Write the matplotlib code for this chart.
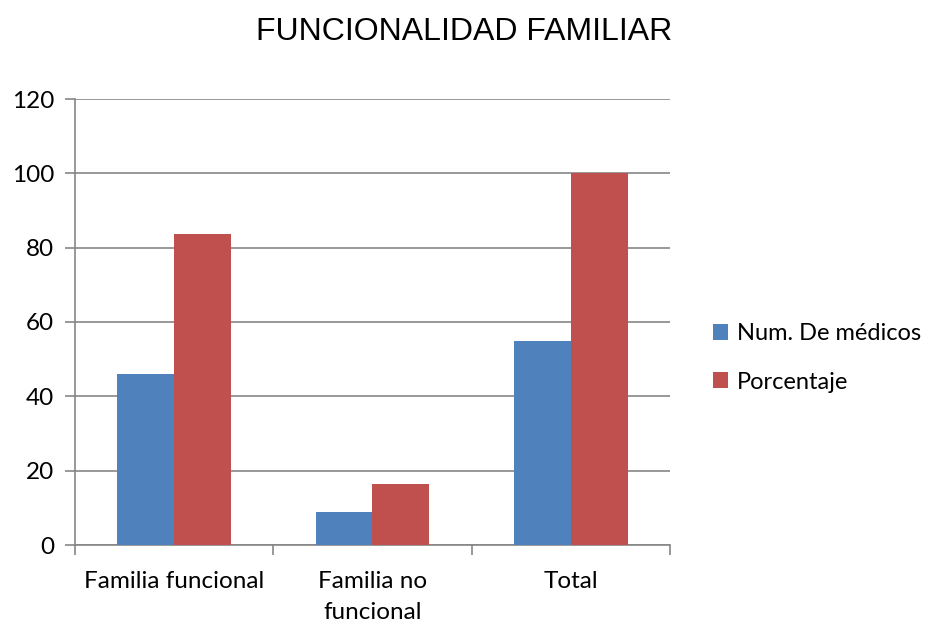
import matplotlib
matplotlib.use("Agg")
import matplotlib.pyplot as plt
import numpy as np
from matplotlib.patches import Patch

categories = ["Familia funcional", "Familia no\nfuncional", "Total"]
series_names = ["Num. De médicos", "Porcentaje"]
medicos = [46, 9, 55]
porcentaje = [83.6, 16.4, 100]
yticks = [0, 20, 40, 60, 80, 100, 120]
title = "FUNCIONALIDAD FAMILIAR"

blue = "#4F81BD"
red = "#C0504D"
grid_c = "#868686"
font = ["Lato", "DejaVu Sans"]

fig = plt.figure(figsize=(9.29, 6.26), dpi=100)
ax = fig.add_axes([75/929, 81/626, 595/929, 446/626])

x = np.arange(len(categories))
w = 0.287
ax.bar(x - w/2, medicos, width=w, color=blue, zorder=3)
ax.bar(x + w/2, porcentaje, width=w, color=red, zorder=3)

ax.set_xlim(-0.5, len(categories) - 0.5)
ax.set_ylim(0, 120)
ax.set_yticks(yticks)
ax.set_yticklabels([str(t) for t in yticks], fontsize=17.5, family=font)
ax.yaxis.grid(True, color=grid_c, linewidth=1.2, zorder=0)
ax.set_axisbelow(True)

ax.set_xticks(np.arange(len(categories) + 1) - 0.5)
ax.set_xticklabels([])
ax.set_xticks(x, minor=True)
ax.set_xticklabels(categories, minor=True, fontsize=17.5, family=font, linespacing=1.55)
ax.tick_params(axis="x", which="minor", length=0, pad=19)
ax.tick_params(axis="x", which="major", length=7, color=grid_c, width=1.2)
ax.tick_params(axis="y", length=7, color=grid_c, width=1.2, pad=8)

for s in ["top", "right"]:
    ax.spines[s].set_visible(False)
for s in ["left", "bottom"]:
    ax.spines[s].set_color(grid_c)
    ax.spines[s].set_linewidth(1.2)

fig.text(0.5, 1 - 32/626, title, ha="center", va="center", fontsize=23,
         family=["Liberation Sans", "DejaVu Sans"])

handles = [Patch(facecolor=blue), Patch(facecolor=red)]
fig.legend(handles, series_names, loc="center left", bbox_to_anchor=(706/929, 1 - 358/626),
           frameon=False, prop={"family": font, "size": 17}, handlelength=0.65, handleheight=0.65,
           handletextpad=0.35, labelspacing=1.15, borderaxespad=0, borderpad=0.3)

fig.savefig("out.png", dpi=100)
